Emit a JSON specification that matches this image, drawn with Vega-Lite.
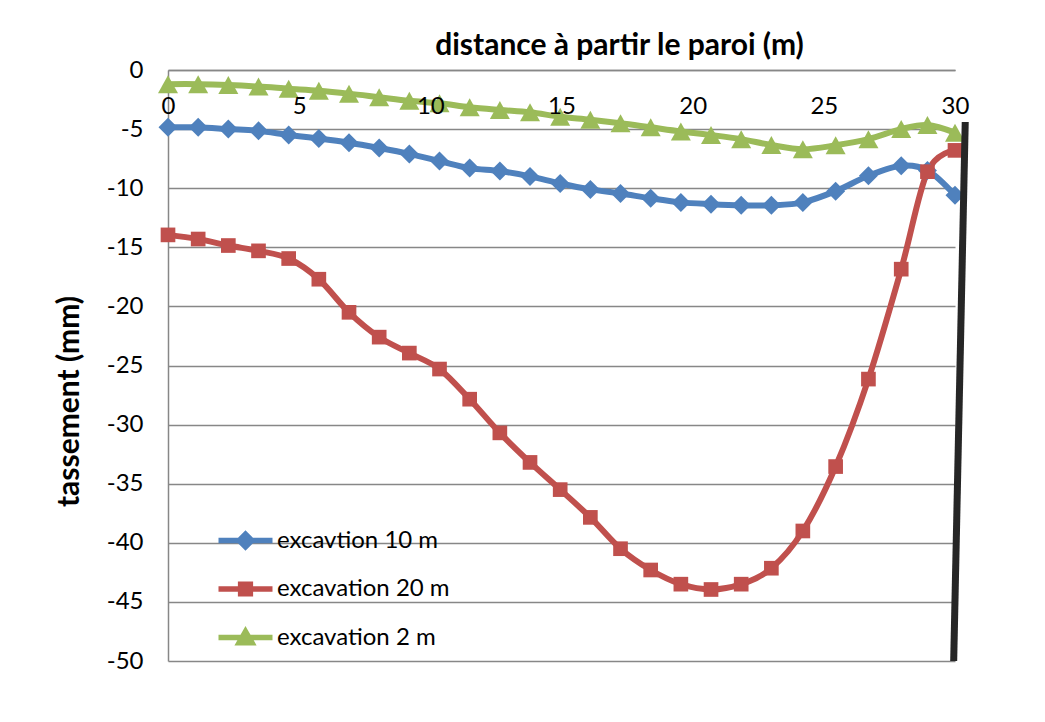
{
  "$schema": "https://vega.github.io/schema/vega-lite/v6.json",
  "autosize": {"type": "none"},
  "padding": {"left": 168, "top": 70, "right": 90, "bottom": 61},
  "width": 787,
  "height": 591,
  "background": "white",
  "config": {
    "view": {"stroke": null},
    "font": "Lato",
    "axis": {"labelFont": "Lato", "titleFont": "Lato", "labelColor": "#000000", "titleColor": "#000000"}
  },
  "datasets": {
    "settlement": [
      {"series": "excavtion 10 m", "x": 0, "y": -4.85},
      {"series": "excavtion 10 m", "x": 1.15, "y": -4.85},
      {"series": "excavtion 10 m", "x": 2.3, "y": -5.0},
      {"series": "excavtion 10 m", "x": 3.45, "y": -5.15},
      {"series": "excavtion 10 m", "x": 4.6, "y": -5.5},
      {"series": "excavtion 10 m", "x": 5.75, "y": -5.8},
      {"series": "excavtion 10 m", "x": 6.9, "y": -6.15},
      {"series": "excavtion 10 m", "x": 8.05, "y": -6.6},
      {"series": "excavtion 10 m", "x": 9.2, "y": -7.1},
      {"series": "excavtion 10 m", "x": 10.35, "y": -7.7},
      {"series": "excavtion 10 m", "x": 11.5, "y": -8.3},
      {"series": "excavtion 10 m", "x": 12.65, "y": -8.55},
      {"series": "excavtion 10 m", "x": 13.8, "y": -9.0},
      {"series": "excavtion 10 m", "x": 14.95, "y": -9.6},
      {"series": "excavtion 10 m", "x": 16.1, "y": -10.1},
      {"series": "excavtion 10 m", "x": 17.25, "y": -10.45},
      {"series": "excavtion 10 m", "x": 18.4, "y": -10.85},
      {"series": "excavtion 10 m", "x": 19.55, "y": -11.2},
      {"series": "excavtion 10 m", "x": 20.7, "y": -11.35},
      {"series": "excavtion 10 m", "x": 21.85, "y": -11.45},
      {"series": "excavtion 10 m", "x": 23.0, "y": -11.45},
      {"series": "excavtion 10 m", "x": 24.2, "y": -11.2},
      {"series": "excavtion 10 m", "x": 25.45, "y": -10.25},
      {"series": "excavtion 10 m", "x": 26.7, "y": -8.95},
      {"series": "excavtion 10 m", "x": 27.95, "y": -8.1},
      {"series": "excavtion 10 m", "x": 28.95, "y": -8.5},
      {"series": "excavtion 10 m", "x": 30, "y": -10.6},
      {"series": "excavation 20 m", "x": 0, "y": -13.95},
      {"series": "excavation 20 m", "x": 1.15, "y": -14.3},
      {"series": "excavation 20 m", "x": 2.3, "y": -14.85},
      {"series": "excavation 20 m", "x": 3.45, "y": -15.3},
      {"series": "excavation 20 m", "x": 4.6, "y": -15.95},
      {"series": "excavation 20 m", "x": 5.75, "y": -17.7},
      {"series": "excavation 20 m", "x": 6.9, "y": -20.5},
      {"series": "excavation 20 m", "x": 8.05, "y": -22.6},
      {"series": "excavation 20 m", "x": 9.2, "y": -23.95},
      {"series": "excavation 20 m", "x": 10.35, "y": -25.3},
      {"series": "excavation 20 m", "x": 11.5, "y": -27.85},
      {"series": "excavation 20 m", "x": 12.65, "y": -30.7},
      {"series": "excavation 20 m", "x": 13.8, "y": -33.2},
      {"series": "excavation 20 m", "x": 14.95, "y": -35.5},
      {"series": "excavation 20 m", "x": 16.1, "y": -37.85},
      {"series": "excavation 20 m", "x": 17.25, "y": -40.5},
      {"series": "excavation 20 m", "x": 18.4, "y": -42.3},
      {"series": "excavation 20 m", "x": 19.55, "y": -43.5},
      {"series": "excavation 20 m", "x": 20.7, "y": -43.95},
      {"series": "excavation 20 m", "x": 21.85, "y": -43.5},
      {"series": "excavation 20 m", "x": 23.0, "y": -42.15},
      {"series": "excavation 20 m", "x": 24.2, "y": -39.0},
      {"series": "excavation 20 m", "x": 25.45, "y": -33.55},
      {"series": "excavation 20 m", "x": 26.7, "y": -26.15},
      {"series": "excavation 20 m", "x": 27.95, "y": -16.85},
      {"series": "excavation 20 m", "x": 28.95, "y": -8.6},
      {"series": "excavation 20 m", "x": 30, "y": -6.8},
      {"series": "excavation 2 m", "x": 0, "y": -1.2},
      {"series": "excavation 2 m", "x": 1.15, "y": -1.2},
      {"series": "excavation 2 m", "x": 2.3, "y": -1.27},
      {"series": "excavation 2 m", "x": 3.45, "y": -1.4},
      {"series": "excavation 2 m", "x": 4.6, "y": -1.58},
      {"series": "excavation 2 m", "x": 5.75, "y": -1.75},
      {"series": "excavation 2 m", "x": 6.9, "y": -2.0},
      {"series": "excavation 2 m", "x": 8.05, "y": -2.3},
      {"series": "excavation 2 m", "x": 9.2, "y": -2.6},
      {"series": "excavation 2 m", "x": 10.35, "y": -2.82},
      {"series": "excavation 2 m", "x": 11.5, "y": -3.15},
      {"series": "excavation 2 m", "x": 12.65, "y": -3.38},
      {"series": "excavation 2 m", "x": 13.8, "y": -3.58},
      {"series": "excavation 2 m", "x": 14.95, "y": -3.95},
      {"series": "excavation 2 m", "x": 16.1, "y": -4.2},
      {"series": "excavation 2 m", "x": 17.25, "y": -4.5},
      {"series": "excavation 2 m", "x": 18.4, "y": -4.85},
      {"series": "excavation 2 m", "x": 19.55, "y": -5.2},
      {"series": "excavation 2 m", "x": 20.7, "y": -5.5},
      {"series": "excavation 2 m", "x": 21.85, "y": -5.85},
      {"series": "excavation 2 m", "x": 23.0, "y": -6.35},
      {"series": "excavation 2 m", "x": 24.2, "y": -6.7},
      {"series": "excavation 2 m", "x": 25.45, "y": -6.37},
      {"series": "excavation 2 m", "x": 26.7, "y": -5.85},
      {"series": "excavation 2 m", "x": 27.95, "y": -5.0},
      {"series": "excavation 2 m", "x": 28.95, "y": -4.65},
      {"series": "excavation 2 m", "x": 30, "y": -5.3}
    ],
    "wall": [
      {"x": 30.39, "y": -4.4, "x2": 29.95, "y2": -50}
    ]
  },
  "layer": [
    {
      "data": {"name": "settlement"},
      "encoding": {
        "x": {
          "field": "x",
          "type": "quantitative",
          "scale": {"domain": [0, 30], "nice": false, "zero": false},
          "axis": {
            "orient": "bottom",
            "offset": -591,
            "zindex": 1,
            "values": [0, 5, 10, 15, 20, 25, 30],
            "grid": false,
            "ticks": false,
            "tickSize": 0,
            "domain": true,
            "domainColor": "#878787",
            "domainWidth": 1.5,
            "labelFontSize": 24,
            "labelPadding": 24,
            "labelFlush": false,
            "title": "distance à partir le paroi (m)",
            "titleFontSize": 30,
            "titleFontWeight": "bold",
            "titleX": 451,
            "titleY": -16,
            "titleAlign": "center",
            "titleBaseline": "alphabetic"
          }
        },
        "y": {
          "field": "y",
          "type": "quantitative",
          "scale": {"domain": [-50, 0], "nice": false, "zero": false},
          "axis": {
            "orient": "left",
            "values": [-50, -45, -40, -35, -30, -25, -20, -15, -10, -5, 0],
            "labelExpr": "datum.value < 0 ? '-' + abs(datum.value) : '' + datum.value",
            "grid": true,
            "gridColor": "#878787",
            "gridWidth": 1.5,
            "ticks": false,
            "tickSize": 0,
            "domain": true,
            "domainColor": "#878787",
            "domainWidth": 1.5,
            "labelFontSize": 24,
            "labelPadding": 25,
            "title": "tassement (mm)",
            "titleFontSize": 30,
            "titleFontWeight": "bold",
            "titleAngle": -90,
            "titleX": -90,
            "titleY": 331,
            "titleAlign": "center",
            "titleBaseline": "alphabetic"
          }
        },
        "color": {
          "field": "series",
          "type": "nominal",
          "scale": {
            "domain": ["excavtion 10 m", "excavation 20 m", "excavation 2 m"],
            "range": ["#4F81BD", "#C0504D", "#9BBB59"]
          },
          "legend": {
            "orient": "none",
            "legendX": 61,
            "legendY": 454,
            "title": null,
            "symbolSize": 729,
            "symbolStrokeWidth": 5,
            "symbolOpacity": 1,
            "labelFont": "Lato",
            "labelFontSize": 24,
            "labelColor": "#000000",
            "labelOffset": 15,
            "labelLimit": 400,
            "rowPadding": 14.5,
            "encode": {
              "symbols": {
                "update": {
                  "shape": {"signal": "datum.value === 'excavtion 10 m' ? 'M-2,0H2M0,-0.47L0.47,0L0,0.47L-0.47,0Z' : datum.value === 'excavation 20 m' ? 'M-2,0H2M-0.36,-0.36H0.36V0.36H-0.36Z' : 'M-2,0H2M0,-0.44L0.47,0.38H-0.47Z'"},
                  "size": {"value": 729},
                  "fill": {"scale": "color", "field": "value"},
                  "stroke": {"scale": "color", "field": "value"},
                  "strokeWidth": {"value": 5.5},
                  "opacity": {"value": 1}
                }
              }
            }
          }
        }
      },
      "layer": [
        {
          "mark": {"type": "line", "strokeWidth": 6, "interpolate": "cardinal", "tension": 0}
        },
        {
          "transform": [{"filter": "datum.series === 'excavtion 10 m'"}],
          "mark": {"type": "point", "filled": true, "opacity": 1, "shape": "diamond", "size": 361}
        },
        {
          "transform": [{"filter": "datum.series === 'excavation 20 m'"}],
          "mark": {"type": "point", "filled": true, "opacity": 1, "shape": "square", "size": 215}
        },
        {
          "transform": [{"filter": "datum.series === 'excavation 2 m'"}],
          "mark": {"type": "point", "filled": true, "opacity": 1, "shape": "M0,-0.9L1,0.9L-1,0.9Z", "size": 400}
        }
      ]
    },
    {
      "data": {"name": "wall"},
      "mark": {"type": "rule", "color": "#262626", "strokeWidth": 7, "strokeCap": "butt"},
      "encoding": {
        "x": {"field": "x", "type": "quantitative"},
        "y": {"field": "y", "type": "quantitative"},
        "x2": {"field": "x2"},
        "y2": {"field": "y2"}
      }
    }
  ]
}
